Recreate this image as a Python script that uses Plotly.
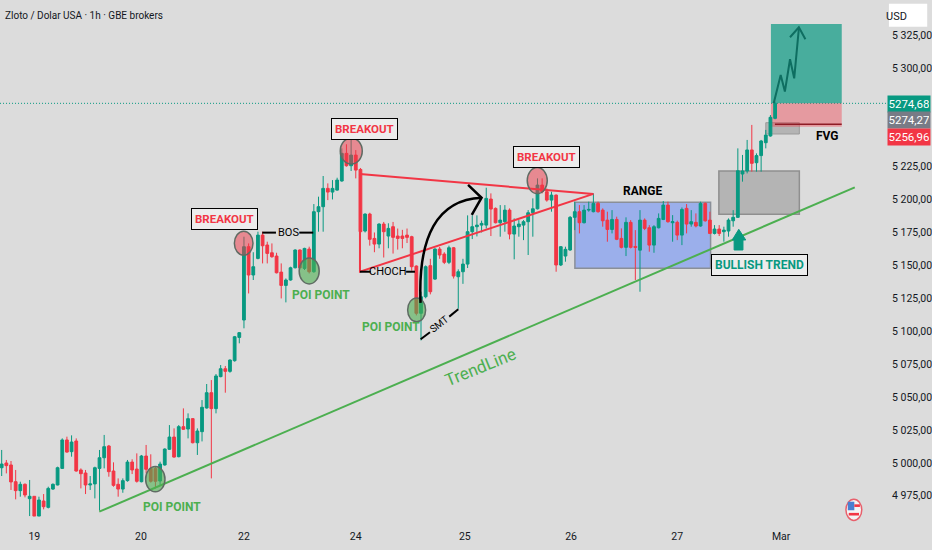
"""Gold / USD 1h chart with hand-drawn trading annotations."""

import plotly.graph_objects as go

UP = "#089981"
DOWN = "#f23645"
GREEN = "#4caf50"
BG = "#dcdcdc"
FONT = "Roboto, Noto Sans, sans-serif"

opens = [
    4996.3, 4999.9, 4998.4, 4985.7, 4978.9, 4983.7, 4972.8, 4974.6, 4959.6, 4971.0,
    4966.2, 4980.1, 4983.2, 4995.8, 5017.4, 5008.5, 5016.6, 4994.6, 4992.3, 4983.2,
    4984.0, 4995.8, 5003.9, 5012.8, 4993.8, 4983.7, 4980.1, 4986.5, 5000.6, 4995.3,
    4985.7, 5005.2, 4995.8, 4995.8, 4986.2, 4998.4, 5010.3, 5019.6, 5004.7, 5027.5,
    5025.7, 5033.6, 5015.3, 5023.7, 5041.7, 5053.3, 5041.2, 5065.5, 5071.5, 5069.5,
    5077.6, 5095.3, 5108.5, 5164.2, 5142.7, 5155.3, 5173.0, 5165.5, 5159.6, 5157.1,
    5144.9, 5134.8, 5138.9, 5148.2, 5161.7, 5147.7, 5162.4, 5145.2, 5190.8, 5194.6,
    5208.5, 5205.7, 5207.2, 5214.1, 5235.1, 5225.7, 5233.8, 5222.9, 5176.1, 5189.0,
    5170.5, 5166.2, 5181.4, 5172.3, 5179.4, 5172.3, 5172.3, 5173.0, 5171.8, 5149.5,
    5113.6, 5126.2, 5149.8, 5139.6, 5162.4, 5158.6, 5152.3, 5163.4, 5141.4, 5145.2,
    5151.0, 5175.6, 5179.4, 5180.6, 5180.6, 5200.4, 5193.3, 5182.4, 5183.2, 5192.0,
    5173.8, 5179.4, 5180.6, 5183.2, 5190.0, 5193.0, 5211.0, 5206.0, 5199.6, 5203.4,
    5150.3, 5157.1, 5161.7, 5186.5, 5190.8, 5182.4, 5192.0, 5190.8, 5197.1, 5192.0,
    5184.4, 5177.3, 5184.9, 5170.5, 5163.7, 5182.7, 5164.4, 5161.6, 5184.4, 5178.6,
    5165.4, 5178.6, 5184.9, 5195.8, 5182.4, 5182.7, 5173.0, 5193.3, 5181.4, 5182.7,
    5179.9, 5197.1, 5184.4, 5174.3, 5177.6, 5175.6, 5176.1, 5183.9, 5186.5, 5219.4,
    5221.7, 5237.7, 5228.0, 5233.4, 5243.2, 5248.3, 5261.7,
]
highs = [
    5009.8, 5002.2, 5001.4, 4994.6, 4985.7, 4984.4, 4987.0, 4974.6, 4974.3, 4976.3,
    4981.9, 4984.4, 4997.1, 5018.6, 5019.9, 5020.9, 5018.6, 4995.8, 4994.6, 4990.0,
    4997.1, 5009.8, 5021.2, 5013.6, 5000.4, 4988.2, 4988.2, 5002.2, 5002.7, 5007.2,
    5006.0, 5013.6, 5006.5, 4997.1, 5000.9, 5011.0, 5028.7, 5026.2, 5028.7, 5041.4,
    5037.6, 5034.0, 5026.2, 5047.7, 5059.9, 5062.9, 5067.5, 5074.3, 5073.6, 5078.6,
    5096.4, 5099.4, 5171.8, 5166.7, 5160.0, 5175.6, 5175.6, 5168.0, 5166.7, 5159.6,
    5151.5, 5140.1, 5149.0, 5162.2, 5162.2, 5163.4, 5164.2, 5196.6, 5202.2, 5217.9,
    5212.3, 5214.8, 5216.6, 5238.9, 5242.0, 5249.0, 5237.6, 5224.0, 5189.5, 5190.0,
    5175.0, 5182.0, 5183.0, 5182.0, 5183.0, 5178.0, 5177.0, 5178.0, 5172.5, 5150.0,
    5130.0, 5150.0, 5155.0, 5163.0, 5164.0, 5160.0, 5165.0, 5164.0, 5147.0, 5155.0,
    5188.0, 5188.0, 5188.0, 5184.0, 5209.0, 5204.7, 5194.0, 5195.8, 5195.8, 5193.3,
    5185.7, 5184.4, 5184.4, 5192.0, 5200.9, 5216.1, 5216.1, 5208.5, 5206.0, 5203.9,
    5164.7, 5164.2, 5187.5, 5198.4, 5195.8, 5195.8, 5198.4, 5204.7, 5198.4, 5193.3,
    5190.8, 5192.0, 5187.0, 5178.1, 5186.5, 5184.4, 5176.8, 5192.0, 5185.7, 5180.6,
    5180.6, 5189.5, 5198.9, 5198.4, 5188.2, 5184.0, 5194.0, 5196.6, 5192.0, 5189.5,
    5198.4, 5197.9, 5190.8, 5180.6, 5180.6, 5179.4, 5185.7, 5192.0, 5238.9, 5233.9,
    5245.3, 5256.7, 5235.1, 5245.3, 5252.9, 5264.2, 5274.4,
]
lows = [
    4990.0, 4992.0, 4979.4, 4972.3, 4974.3, 4973.8, 4959.6, 4959.6, 4959.6, 4964.7,
    4965.4, 4979.4, 4982.9, 4995.6, 5007.7, 5004.7, 4993.3, 4980.6, 4976.3, 4979.4,
    4973.0, 4963.7, 4995.8, 4989.5, 4981.9, 4974.3, 4977.3, 4985.7, 4991.5, 4985.0,
    4985.2, 4992.0, 4985.0, 4980.6, 4983.2, 4997.9, 5009.8, 5003.9, 5004.2, 5025.0,
    5018.6, 5014.8, 5006.0, 5016.3, 5041.2, 4988.2, 5037.6, 5065.0, 5053.3, 5068.5,
    5076.9, 5090.8, 5102.2, 5128.7, 5138.9, 5154.6, 5151.5, 5151.5, 5155.8, 5143.9,
    5124.9, 5121.9, 5138.4, 5147.7, 5147.7, 5146.5, 5143.9, 5144.4, 5175.6, 5175.6,
    5199.6, 5200.1, 5206.7, 5213.6, 5225.0, 5221.7, 5216.1, 5146.5, 5175.0, 5165.0,
    5160.0, 5163.0, 5156.0, 5163.0, 5159.0, 5162.0, 5163.0, 5167.0, 5146.0, 5112.0,
    5093.0, 5125.0, 5128.0, 5139.0, 5155.0, 5151.0, 5151.0, 5140.0, 5117.0, 5136.0,
    5148.0, 5170.0, 5172.0, 5175.0, 5178.0, 5172.3, 5181.9, 5171.8, 5175.6, 5169.8,
    5154.6, 5171.8, 5169.2, 5157.9, 5171.8, 5192.5, 5204.7, 5198.4, 5190.8, 5145.2,
    5149.5, 5152.8, 5161.1, 5176.8, 5174.3, 5181.9, 5190.8, 5190.3, 5190.0, 5179.4,
    5168.0, 5174.3, 5169.2, 5162.9, 5157.1, 5162.9, 5138.9, 5130.0, 5176.8, 5160.4,
    5159.6, 5178.1, 5184.4, 5182.4, 5168.0, 5169.2, 5165.4, 5174.3, 5179.4, 5178.9,
    5179.4, 5183.2, 5173.8, 5173.5, 5172.3, 5168.0, 5171.8, 5179.4, 5186.0, 5213.6,
    5219.9, 5221.2, 5221.2, 5221.2, 5238.9, 5247.8, 5261.0,
]
closes = [
    4999.1, 4997.9, 4985.5, 4978.9, 4983.7, 4975.6, 4974.6, 4959.6, 4971.8, 4966.7,
    4980.6, 4983.7, 4996.3, 5017.4, 5008.2, 5015.8, 4993.8, 4991.8, 4983.2, 4984.0,
    4996.3, 5003.9, 5012.3, 4993.3, 4982.9, 4980.1, 4986.5, 5000.6, 4994.6, 4986.0,
    5005.2, 4995.1, 4986.0, 4986.0, 4999.1, 5010.5, 5019.6, 5004.4, 5027.5, 5025.5,
    5033.6, 5015.3, 5024.2, 5042.2, 5053.3, 5041.2, 5066.0, 5071.5, 5069.5, 5078.1,
    5095.8, 5098.9, 5164.2, 5142.7, 5149.0, 5173.0, 5164.9, 5159.1, 5156.6, 5144.4,
    5134.8, 5138.9, 5148.2, 5161.7, 5148.2, 5162.9, 5145.2, 5190.8, 5194.6, 5208.5,
    5205.7, 5208.5, 5214.8, 5235.1, 5225.7, 5233.8, 5222.4, 5175.6, 5189.0, 5169.8,
    5166.2, 5181.4, 5175.6, 5178.1, 5171.3, 5170.5, 5170.5, 5171.3, 5149.0, 5113.6,
    5126.2, 5149.0, 5130.0, 5162.4, 5157.9, 5152.3, 5163.4, 5141.9, 5145.2, 5151.0,
    5175.6, 5179.4, 5180.6, 5181.9, 5200.9, 5192.8, 5182.4, 5184.4, 5192.0, 5173.8,
    5179.9, 5181.4, 5183.2, 5190.0, 5193.0, 5211.0, 5206.0, 5199.6, 5203.4, 5150.3,
    5164.2, 5162.2, 5186.5, 5190.8, 5182.4, 5192.0, 5192.5, 5197.1, 5190.8, 5183.9,
    5177.3, 5184.9, 5169.8, 5163.7, 5182.7, 5163.7, 5163.7, 5184.4, 5178.1, 5165.4,
    5179.4, 5185.7, 5195.8, 5183.2, 5183.2, 5173.0, 5192.5, 5181.4, 5183.2, 5179.9,
    5197.1, 5183.9, 5174.3, 5177.6, 5174.3, 5176.8, 5184.4, 5186.5, 5221.9, 5221.7,
    5237.7, 5227.5, 5233.4, 5244.5, 5249.0, 5262.5, 5273.1,
]
bars = list(range(len(opens)))

day_ticks = [7, 29.9, 52, 76, 99.4, 122.2, 145, 167.3]
day_labels = ["19", "20", "22", "24", "25", "26", "27", "Mar"]
price_ticks = [5325, 5300, 5225, 5200, 5175, 5150, 5125, 5100, 5075, 5050, 5025, 5000, 4975]
price_labels = [f"{p // 1000} {p % 1000:03d},00" for p in price_ticks]

last_close = closes[-1]
badge_values = [("5274,68", UP, 103.7), ("5274,27", "#787b86", 120), ("5256,96", DOWN, 136.5)]

fig = go.Figure()
fig.add_trace(go.Candlestick(
    x=bars, open=opens, high=highs, low=lows, close=closes,
    increasing=dict(line=dict(color=UP, width=1), fillcolor=UP),
    decreasing=dict(line=dict(color=DOWN, width=1), fillcolor=DOWN),
    showlegend=False,
))


def line(points, color, width=2, dash="solid", layer="above"):
    path = "M " + " L ".join(f"{x},{y}" for x, y in points)
    fig.add_shape(type="path", path=path, line=dict(color=color, width=width, dash=dash), layer=layer)


def box(x0, x1, y0, y1, fill, border="rgba(0,0,0,0)", width=1, layer="below"):
    fig.add_shape(type="rect", x0=x0, x1=x1, y0=y0, y1=y1, fillcolor=fill,
                  line=dict(color=border, width=width), layer=layer)


def oval(x0, x1, y0, y1, fill, border="#5f6b63", width=1.5):
    fig.add_shape(type="circle", x0=x0, x1=x1, y0=y0, y1=y1, fillcolor=fill,
                  line=dict(color=border, width=width), layer="above")


def label(x, y, text, color="#000000", size=13, framed=False, angle=0):
    fig.add_annotation(
        x=x, y=y, text=text, showarrow=False, textangle=angle,
        font=dict(family=FONT, size=size, color=color),
        bgcolor="#ececec" if framed else None,
        bordercolor="#000000" if framed else None,
        borderwidth=1 if framed else 0,
        borderpad=3,
    )


# last price dotted line
line([(-1, last_close), (190, last_close)], UP, width=1, dash="1px,2px", layer="below")

# zones
box(123.03, 152.15, 5147.8, 5198, "rgba(90,130,250,0.5)", "#8a8f98", 1.5)
box(153.93, 171.2, 5188.8, 5221.7, "rgba(120,120,120,0.4)", "#8f8f8f", 1.5)
box(164.0, 171.2, 5249.8, 5258.4, "rgba(120,120,120,0.4)", "#9a9a9a", 1)
box(165.1, 180.3, 5273.1, 5333.4, "rgba(8,153,129,0.7)")
box(165.1, 180.3, 5255.4, 5273.1, "rgba(242,54,69,0.4)")
line([(165.96, 5257.2), (180.3, 5257.2)], "#8e1c26", 1.5)

# trend line and triangle
line([(20.95, 4962.9), (183.1, 5209.3)], GREEN, 2)
line([(76.9, 5219.4), (127, 5204.3), (76.9, 5145.2), (76.9, 5219.4)], DOWN, 2)

# circles
green_fill = "rgba(76,175,80,0.6)"
red_fill = "rgba(242,54,69,0.5)"
oval(30.9, 35.05, 4978, 4997.3, green_fill)
oval(63.85, 68.15, 5135.9, 5155.7, green_fill)
oval(87.13, 90.99, 5107.1, 5125.3, green_fill)
oval(49.94, 53.94, 5157.7, 5175.9, red_fill)
oval(72.67, 77.39, 5227, 5246.8, red_fill)
oval(112.8, 117.1, 5204.5, 5224.3, red_fill)

# curved arrow
fig.add_shape(type="path", path="M 89.9,5121.5 C 89.3,5172 93.5,5200 103,5201.4",
              line=dict(color="#000000", width=2.5), layer="above")
line([(100.1, 5211.1), (103, 5201.4), (100.9, 5188.3)], "#000000", 2.5)

# BOS, CHOCH, SMT
line([(55.93, 5174.9), (58.87, 5174.9)], "#000000", 2)
line([(63.87, 5174.9), (66.87, 5174.9)], "#000000", 2)
line([(76.9, 5145.2), (79.2, 5145.2)], "#000000", 2)
line([(86.8, 5145.2), (88.7, 5145.2)], "#000000", 2)
line([(89.92, 5093.9), (91.92, 5099.2)], "#000000", 2)
line([(96.06, 5111.1), (98.0, 5116.7)], "#000000", 2)

# projected path
line([(165.7, 5273.1), (167.2, 5294.6), (168.1, 5282), (169.2, 5306.6), (170.1, 5292.1), (171.1, 5330.1)], "#0e6e61", 2)
line([(169.2, 5323.3), (171.1, 5330.9), (172.5, 5321.8)], "#0e6e61", 2)

# bullish arrow
fig.add_shape(
    type="path",
    path="M 158.2,5177.4 L 159.7,5169.3 L 159.1,5169.3 L 159.1,5161.7 L 157.2,5161.7 L 157.2,5169.3 L 156.8,5169.3 Z",
    fillcolor=UP, line=dict(color=UP, width=1), layer="above",
)

# flag marker
oval(181.2, 184.6, 4956.3, 4972.3, "#f4f4f4", "#e8606c", 1.5)
box(181.6, 183, 4964, 4970.5, "#4a7fd0", layer="above")
box(183, 184.2, 4966.5, 4968.5, DOWN, layer="above")
box(181.8, 184, 4960, 4962, DOWN, layer="above")

label(47.86, 5185, "<b>BREAKOUT</b>", DOWN, 11.5, framed=True)
label(77.86, 5253.8, "<b>BREAKOUT</b>", DOWN, 11.5, framed=True)
label(116.85, 5232, "<b>BREAKOUT</b>", DOWN, 11.5, framed=True)
label(162.7, 5150.6, "<b>BULLISH TREND</b>", UP, 12, framed=True)
label(36.49, 4966.3, "<b>POI POINT</b>", GREEN, 12)
label(68.46, 5127.5, "<b>POI POINT</b>", GREEN, 12)
label(83.5, 5103, "<b>POI POINT</b>", GREEN, 12)
label(137.5, 5206.5, "<b>RANGE</b>", "#000000", 12)
label(177.3, 5248.5, "<b>FVG</b>", "#000000", 12)
label(61.5, 5174.9, "BOS", "#000000", 11)
label(83.0, 5145.2, "CHOCH", "#000000", 11)
label(94.06, 5105.5, "SMT", "#000000", 10, angle=-38)
label(102.7, 5072.9, "TrendLine", GREEN, 17, angle=-22)

fig.update_layout(
    width=932, height=550,
    margin=dict(l=0, r=46, t=0, b=25),
    paper_bgcolor=BG, plot_bgcolor=BG,
    font=dict(family=FONT, size=10.5, color="#131722"),
    showlegend=False,
    boxgap=0.15,
    xaxis=dict(
        range=[-0.36, 189.8], tickmode="array", tickvals=day_ticks, ticktext=day_labels,
        showgrid=False, zeroline=False, showline=False, ticks="", automargin=False, ticklabelstandoff=3,
        rangeslider=dict(visible=False),
    ),
    yaxis=dict(
        range=[4952.8, 5351.6], side="right", tickmode="array", tickvals=price_ticks, ticktext=price_labels,
        showgrid=False, zeroline=False, showline=False, ticks="", automargin=False, ticklabelstandoff=5,
    ),
)

# title, currency button and price badges
fig.add_annotation(xref="paper", yref="paper", x=0, y=1, xanchor="left", yanchor="top", xshift=3, yshift=-8,
                   text="Zloto / Dolar USA · 1h · GBE brokers", showarrow=False,
                   font=dict(family=FONT, size=10, color="#131722"))
fig.add_shape(type="rect", xref="paper", yref="paper", x0=1.0033, x1=1.0465, y0=0.949, y1=0.993,
              fillcolor="#ffffff", line=dict(color="#ffffff", width=0), layer="above")
fig.add_annotation(xref="paper", yref="paper", x=1.026, y=0.9686, yanchor="middle", text="USD", showarrow=False,
                   font=dict(family=FONT, size=11, color="#131722"))
for text, color, py in badge_values:
    fig.add_annotation(xref="paper", yref="paper", x=1.0015, xanchor="left", y=1 - py / 525, yanchor="middle",
                       text=text, showarrow=False, bgcolor=color, borderpad=1, width=40, height=14,
                       font=dict(family=FONT, size=11.5, color="#ffffff"))

# the page's default body margin would shift the chart off the window
fig.write_html("out.html", config={"displayModeBar": False}, post_script="document.body.style.margin = '0';")
